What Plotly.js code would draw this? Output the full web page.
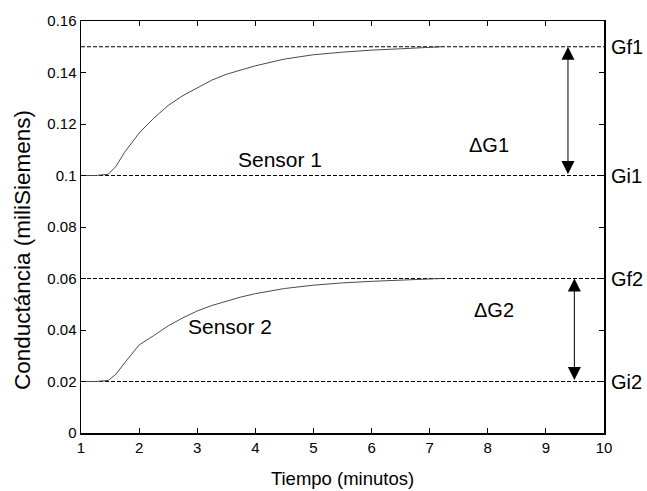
<!DOCTYPE html>
<html><head><meta charset="utf-8">
<script src="https://cdn.plot.ly/plotly-3.0.1.min.js"></script>
<style>html,body{margin:0;padding:0;background:#fff}</style>
</head><body><div id="chart" style="width:647px;height:491px"></div>
<script>
// Time (minutes)
const tiempo = [1.0, 1.25, 1.47, 1.6, 1.75, 2.0, 2.25, 2.5, 2.75, 3.0, 3.25, 3.5, 3.75, 4.0, 4.5, 5.0, 5.5, 6.0, 6.5, 7.0, 7.2];
// Sensor 1 conductance (mS)
const sensor1 = [0.1, 0.1, 0.1005, 0.1035, 0.1090, 0.1165, 0.1222, 0.1272, 0.1310, 0.1341, 0.1370, 0.1393, 0.1411, 0.1426, 0.1452, 0.1469, 0.1479, 0.1487, 0.1492, 0.1497, 0.1500];
// Sensor 2 conductance (mS)
const sensor2 = [0.02, 0.02, 0.0204, 0.0228, 0.0272, 0.0342, 0.0378, 0.0416, 0.0447, 0.0474, 0.0495, 0.0513, 0.0528, 0.0541, 0.0561, 0.0574, 0.0583, 0.0589, 0.0594, 0.0598, 0.0600];
// Reference levels
const levelNames = ['Gf1', 'Gi1', 'Gf2', 'Gi2'];
const levelValues = [0.15, 0.10, 0.06, 0.02];
const xRange = [1, 10];
// Arrows (delta)
const deltaLabels = ['ΔG1', 'ΔG2'];
const deltaX = [9.38, 9.49];
const deltaTop = [0.15, 0.06];
const deltaBottom = [0.10, 0.02];
const deltaLabelX = [8.02, 8.11];
const deltaLabelY = [0.1118, 0.0478];
// Sensor labels
const sensorLabels = ['Sensor 1', 'Sensor 2'];
const sensorLabelX = [4.43, 3.56];
const sensorLabelY = [0.1064, 0.0412];

const font = 'Arial, "Liberation Sans", sans-serif';
const traces = [];
levelValues.forEach(v => {
  traces.push({x: xRange, y: [v, v], mode: 'lines', line: {color: '#000', width: 1, dash: '4px,2px'}, hoverinfo: 'skip'});
});
traces.push({x: tiempo, y: sensor1, mode: 'lines', line: {color: '#4a4a4a', width: 1}});
traces.push({x: tiempo, y: sensor2, mode: 'lines', line: {color: '#4a4a4a', width: 1}});

const annotations = [];
levelNames.forEach((n, i) => {
  annotations.push({x: 1, xref: 'paper', xanchor: 'left', xshift: 5, y: levelValues[i], yref: 'y', text: n, showarrow: false, font: {family: font, size: 20, color: '#000'}});
});
deltaLabels.forEach((t, i) => {
  annotations.push({x: deltaX[i], y: deltaTop[i], ax: deltaX[i], ay: deltaBottom[i], axref: 'x', ayref: 'y', xref: 'x', yref: 'y', text: '', showarrow: true, arrowside: 'end+start', arrowhead: 2, startarrowhead: 2, arrowsize: 2.6, startarrowsize: 2.6, arrowwidth: 1, arrowcolor: '#000', standoff: 0, startstandoff: 0});
  annotations.push({x: deltaLabelX[i], y: deltaLabelY[i], text: t, showarrow: false, font: {family: font, size: 20, color: '#000'}});
});
sensorLabels.forEach((t, i) => {
  annotations.push({x: sensorLabelX[i], y: sensorLabelY[i], text: t, showarrow: false, font: {family: font, size: 21, color: '#000'}});
});
// y-axis title (placed as in the reference, slightly below centre)
annotations.push({x: 0, xref: 'paper', xanchor: 'center', xshift: -59, y: 0.444, yref: 'paper', yanchor: 'middle', textangle: -90, text: 'Conductáncia (miliSiemens)', showarrow: false, font: {family: font, size: 22.5, color: '#000'}});

const layout = {
  width: 647, height: 491,
  margin: {l: 81, r: 43, t: 21, b: 58},
  paper_bgcolor: '#fff', plot_bgcolor: '#fff',
  showlegend: false,
  font: {family: font, size: 15, color: '#000'},
  xaxis: {range: xRange, dtick: 1, tick0: 1, ticks: 'inside', ticklen: 5, tickcolor: '#000', mirror: 'ticks', showline: true, linecolor: '#000', linewidth: 1.5, showgrid: false, zeroline: false, tickfont: {size: 15},
    title: {text: 'Tiempo (minutos)', font: {size: 18.5}, standoff: 17}},
  yaxis: {range: [0, 0.16], dtick: 0.02, ticks: 'inside', ticklen: 5, tickcolor: '#000', mirror: 'ticks', showline: true, linecolor: '#000', linewidth: 1.5, showgrid: false, zeroline: false, tickfont: {size: 15}},
  annotations: annotations
};
Plotly.newPlot('chart', traces, layout, {displayModeBar: false, staticPlot: true});
</script></body></html>
